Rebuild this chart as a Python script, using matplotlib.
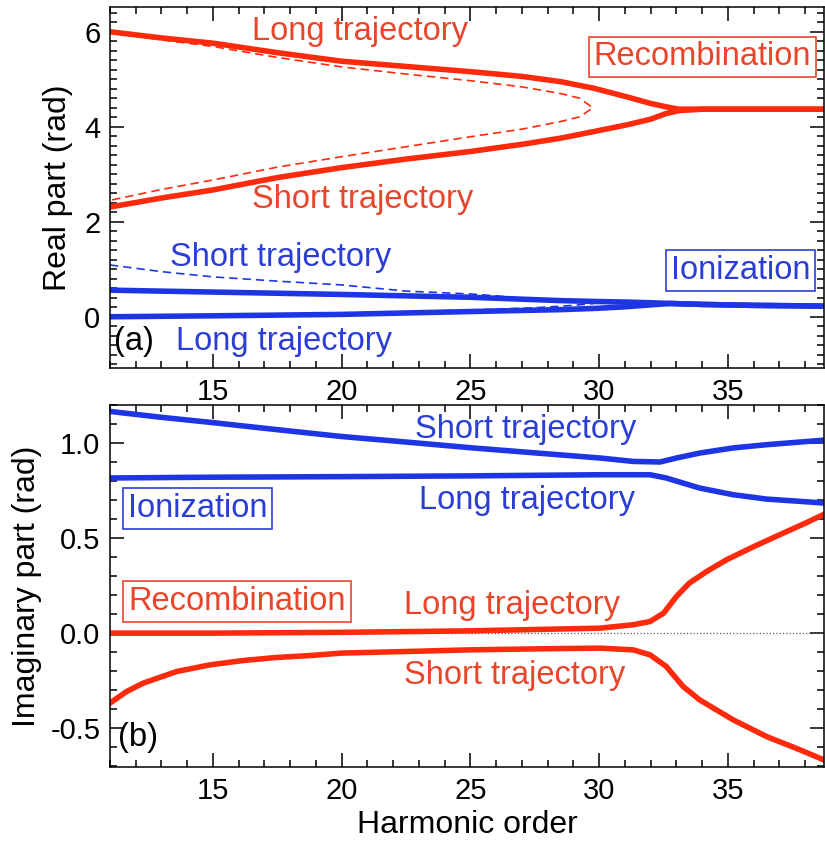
import numpy as np
import matplotlib.pyplot as plt
from matplotlib.ticker import MultipleLocator

plt.rcParams['font.family'] = ['Liberation Sans', 'DejaVu Sans']

RED = '#ff2a0c'
RED_TXT = '#e8452b'
BLUE = '#1e35e6'
BLUE_TXT = '#2a3ed6'

# ---- panel (a): real part ----
rec_long_x = [11, 13, 15, 17.5, 20, 22.5, 25, 27, 28.5, 29.8, 31.07, 32, 32.6, 33.1, 34, 36, 38.73]
rec_long_y = [6.0, 5.87, 5.76, 5.56, 5.38, 5.27, 5.16, 5.06, 4.95, 4.81, 4.63, 4.49, 4.42, 4.37, 4.37, 4.37, 4.37]
rec_short_x = [11, 13, 15, 17.5, 20, 22.5, 25, 27, 28.5, 29.8, 31.07, 32, 32.6, 33.1, 34, 36, 38.73]
rec_short_y = [2.31, 2.5, 2.67, 2.93, 3.14, 3.32, 3.48, 3.63, 3.76, 3.90, 4.04, 4.16, 4.28, 4.34, 4.37, 4.37, 4.37]
rec_dash_x = [11, 13, 15, 17.5, 20, 22.5, 25, 27, 28.5, 29.25, 29.75, 29.25, 28.5, 27, 25, 22.5, 20, 17.5, 15, 13, 11]
rec_dash_y = [5.98, 5.83, 5.69, 5.46, 5.26, 5.11, 4.97, 4.84, 4.70, 4.60, 4.40, 4.21, 4.11, 3.95, 3.79, 3.58, 3.37, 3.15, 2.88, 2.68, 2.45]

ion_short_x = [11, 15, 20, 25, 28.5, 30, 31, 32, 32.75, 34, 36, 38.73]
ion_short_y = [0.56, 0.52, 0.47, 0.41, 0.34, 0.32, 0.31, 0.295, 0.28, 0.26, 0.24, 0.225]
ion_long_x = [11, 15, 20, 25, 28.5, 30, 31, 32, 32.75, 34, 36, 38.73]
ion_long_y = [0.0, 0.02, 0.05, 0.11, 0.15, 0.18, 0.21, 0.25, 0.28, 0.26, 0.24, 0.225]
ion_dash_x = [11, 13, 15, 17.5, 20, 22.5, 25, 27.5, 29, 29.77, 29, 27.5, 25, 20, 15, 11]
ion_dash_y = [1.09, 0.95, 0.84, 0.75, 0.67, 0.54, 0.48, 0.38, 0.32, 0.28, 0.24, 0.19, 0.14, 0.07, 0.03, 0.01]

# ---- panel (b): imaginary part ----
im_ion_short_x = [11, 13, 15, 17.5, 20, 22.5, 25, 27.5, 30.03, 31.32, 32.36, 33.0, 33.9, 35.2, 36.5, 37.8, 38.73]
im_ion_short_y = [1.166, 1.135, 1.107, 1.07, 1.034, 1.005, 0.975, 0.948, 0.921, 0.903, 0.90, 0.921, 0.947, 0.974, 0.991, 1.005, 1.015]
im_ion_long_x = [11, 15, 20, 25, 30.03, 31.97, 32.6, 33.9, 35.2, 36.5, 37.8, 38.73]
im_ion_long_y = [0.816, 0.82, 0.823, 0.827, 0.833, 0.833, 0.816, 0.763, 0.728, 0.705, 0.693, 0.684]
im_rec_long_x = [11, 15, 20, 25, 30.03, 31.32, 31.97, 32.5, 33.0, 33.5, 34.17, 34.95, 36, 37, 38, 38.73]
im_rec_long_y = [0.0, 0.0, 0.004, 0.012, 0.026, 0.044, 0.061, 0.105, 0.193, 0.263, 0.324, 0.386, 0.455, 0.517, 0.578, 0.625]
im_rec_short_x = [11, 11.65, 12.29, 13.59, 14.88, 16.18, 17.47, 18.77, 20, 23, 25, 28, 30.03, 31.32, 31.97, 32.6, 33.26, 33.9, 35.2, 36.5, 37.8, 38.73]
im_rec_short_y = [-0.368, -0.307, -0.263, -0.202, -0.167, -0.144, -0.128, -0.118, -0.105, -0.095, -0.088, -0.082, -0.079, -0.088, -0.114, -0.175, -0.281, -0.351, -0.456, -0.544, -0.614, -0.667]

fig = plt.figure(figsize=(8.25, 8.52), dpi=100)
ax1 = fig.add_axes([0.1333, 0.568, 0.8655, 0.4237])
ax2 = fig.add_axes([0.1333, 0.0998, 0.8655, 0.4249])

lw = 4.0
ax1.plot(rec_dash_x, rec_dash_y, '--', color=RED, lw=1.2, dashes=(5, 3))
ax1.plot(rec_long_x, rec_long_y, color=RED, lw=lw, solid_joinstyle='round')
ax1.plot(rec_short_x, rec_short_y, color=RED, lw=lw, solid_joinstyle='round')
ax1.plot(ion_dash_x, ion_dash_y, '--', color=BLUE, lw=1.2, dashes=(5, 3))
ax1.plot(ion_short_x, ion_short_y, color=BLUE, lw=lw, solid_joinstyle='round')
ax1.plot(ion_long_x, ion_long_y, color=BLUE, lw=lw, solid_joinstyle='round')

ax2.axhline(0, color='#555555', lw=0.9, ls=':')
ax2.plot(im_ion_short_x, im_ion_short_y, color=BLUE, lw=lw, solid_joinstyle='round')
ax2.plot(im_ion_long_x, im_ion_long_y, color=BLUE, lw=lw, solid_joinstyle='round')
ax2.plot(im_rec_long_x, im_rec_long_y, color=RED, lw=lw, solid_joinstyle='round')
ax2.plot(im_rec_short_x, im_rec_short_y, color=RED, lw=lw, solid_joinstyle='round')

for ax in (ax1, ax2):
    ax.set_xlim(11, 38.73)
    ax.xaxis.set_major_locator(MultipleLocator(5))
    ax.xaxis.set_minor_locator(MultipleLocator(1))
    ax.tick_params(which='both', direction='in', top=True, right=True, labelsize=21, width=1.1, pad=7)
    ax.tick_params(which='major', length=10)
    ax.tick_params(which='minor', length=5)
    for s in ax.spines.values():
        s.set_linewidth(1.1)

ax1.set_ylim(-1.08, 6.52)
ax1.yaxis.set_major_locator(MultipleLocator(2))
ax1.yaxis.set_minor_locator(MultipleLocator(0.2))
ax1.set_ylabel('Real part (rad)', fontsize=23, labelpad=8)

ax2.set_ylim(-0.704, 1.2)
ax2.yaxis.set_minor_locator(MultipleLocator(0.1))
ax2.set_yticks([-0.5, 0.0, 0.5, 1.0])
ax2.set_yticklabels(['-0.5', '0.0', '0.5', '1.0'])
ax2.set_ylabel('Imaginary part (rad)', fontsize=23, labelpad=6)
ax2.set_xlabel('Harmonic order', fontsize=23, labelpad=4)

fs = 23.5
box_red = dict(boxstyle='square,pad=0.15', fc='white', ec=RED_TXT, lw=1.2)
box_blue = dict(boxstyle='square,pad=0.15', fc='white', ec=BLUE_TXT, lw=1.2)

ax1.text(20.7, 6.0, 'Long trajectory', color=RED_TXT, fontsize=fs, ha='center', va='center')
ax1.text(20.8, 2.46, 'Short trajectory', color=RED_TXT, fontsize=fs, ha='center', va='center')
ax1.text(34.0, 5.47, 'Recombination', color=RED_TXT, fontsize=fs, ha='center', va='center', bbox=box_red)
ax1.text(17.64, 1.24, 'Short trajectory', color=BLUE_TXT, fontsize=fs, ha='center', va='center')
ax1.text(35.5, 0.98, 'Ionization', color=BLUE_TXT, fontsize=fs, ha='center', va='center', bbox=box_blue)
ax1.text(17.76, -0.53, 'Long trajectory', color=BLUE_TXT, fontsize=fs, ha='center', va='center')
ax1.text(11.15, -0.53, '(a)', color='black', fontsize=fs, ha='left', va='center')

ax2.text(27.16, 1.07, 'Short trajectory', color=BLUE_TXT, fontsize=fs, ha='center', va='center')
ax2.text(14.4, 0.654, 'Ionization', color=BLUE_TXT, fontsize=fs, ha='center', va='center', bbox=box_blue)
ax2.text(27.2, 0.70, 'Long trajectory', color=BLUE_TXT, fontsize=fs, ha='center', va='center')
ax2.text(15.93, 0.165, 'Recombination', color=RED_TXT, fontsize=fs, ha='center', va='center', bbox=box_red)
ax2.text(26.6, 0.144, 'Long trajectory', color=RED_TXT, fontsize=fs, ha='center', va='center')
ax2.text(26.7, -0.225, 'Short trajectory', color=RED_TXT, fontsize=fs, ha='center', va='center')
ax2.text(11.3, -0.55, '(b)', color='black', fontsize=fs, ha='left', va='center')

fig.savefig('out.png', dpi=100)
